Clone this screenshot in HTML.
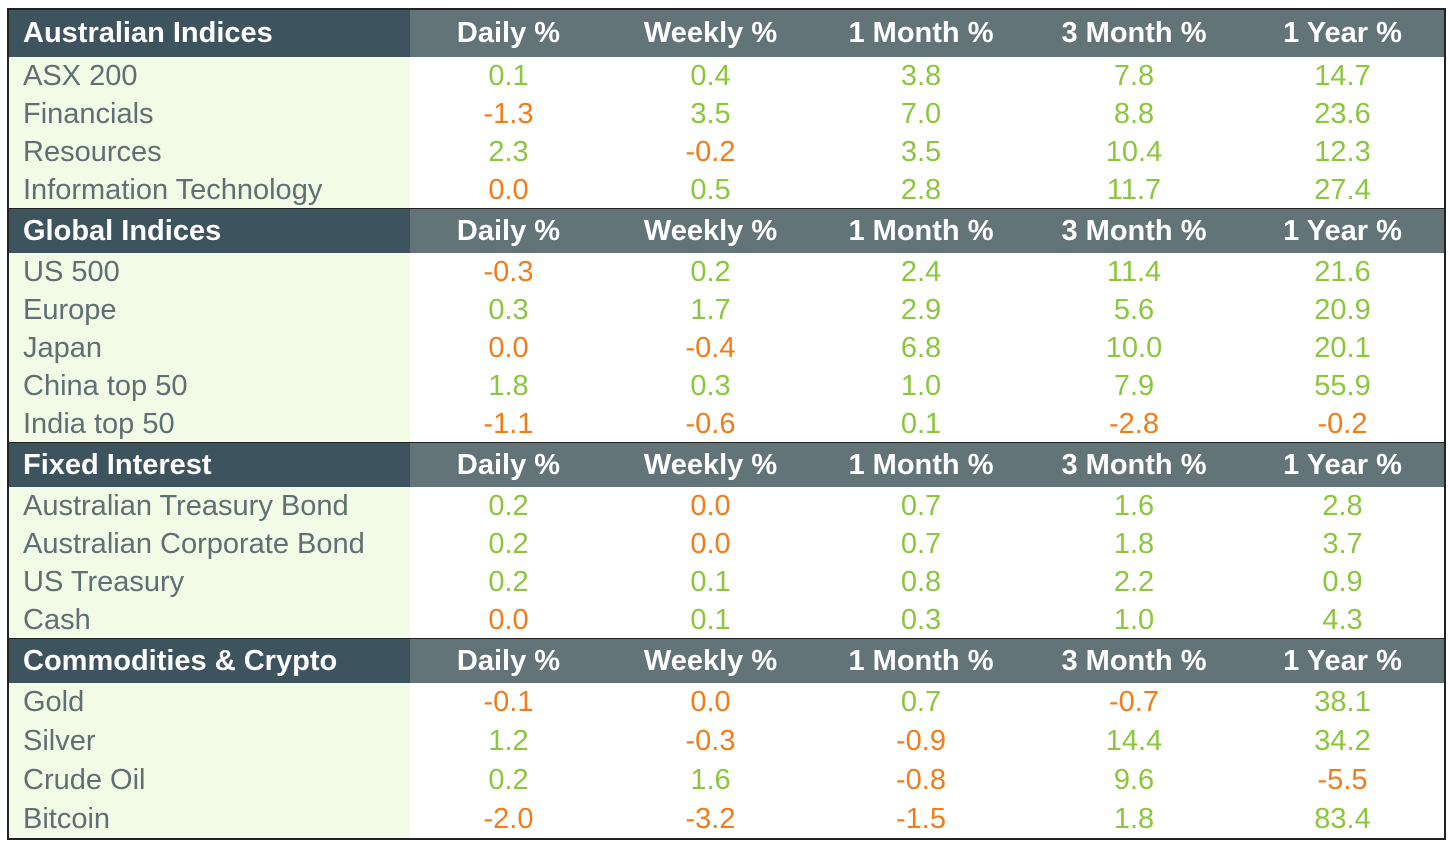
<!DOCTYPE html>
<html><head><meta charset="utf-8"><style>
body{margin:0;width:1450px;height:846px;background:#fff;font-family:"Liberation Sans",Arial,sans-serif;position:relative;overflow:hidden}
.c{position:absolute;box-sizing:border-box;display:flex;align-items:center;font-size:29px;white-space:nowrap}
.lbl{padding-left:14px;color:#5f6f73;background:#f1fbe6}
.hd{font-weight:bold;color:#fff;background:#637479;justify-content:center}
.hd0{background:#3d535e;justify-content:flex-start;padding-left:14px}
.v{justify-content:center}
.pos{color:#8cc63f}.neg{color:#f07d1a}
.line{position:absolute;left:7px;width:1439px;height:2px;background:#222}
#frame{position:absolute;left:7px;top:8px;width:1439px;height:832px;box-sizing:border-box;border:2px solid #222;pointer-events:none;z-index:2}
</style></head><body>
<div id="frame"></div>
<script>
const sectionTitles=["Australian Indices","Global Indices","Fixed Interest","Commodities & Crypto"];
const columnHeaders=["Daily %","Weekly %","1 Month %","3 Month %","1 Year %"];
const rowLabels=[
["ASX 200","Financials","Resources","Information Technology"],
["US 500","Europe","Japan","China top 50","India top 50"],
["Australian Treasury Bond","Australian Corporate Bond","US Treasury","Cash"],
["Gold","Silver","Crude Oil","Bitcoin"]];
const rowValues=[
[[0.1,0.4,3.8,7.8,14.7],[-1.3,3.5,7.0,8.8,23.6],[2.3,-0.2,3.5,10.4,12.3],[0.0,0.5,2.8,11.7,27.4]],
[[-0.3,0.2,2.4,11.4,21.6],[0.3,1.7,2.9,5.6,20.9],[0.0,-0.4,6.8,10.0,20.1],[1.8,0.3,1.0,7.9,55.9],[-1.1,-0.6,0.1,-2.8,-0.2]],
[[0.2,0.0,0.7,1.6,2.8],[0.2,0.0,0.7,1.8,3.7],[0.2,0.1,0.8,2.2,0.9],[0.0,0.1,0.3,1.0,4.3]],
[[-0.1,0.0,0.7,-0.7,38.1],[1.2,-0.3,-0.9,14.4,34.2],[0.2,1.6,-0.8,9.6,-5.5],[-2.0,-3.2,-1.5,1.8,83.4]]];
const colX=[9,410,607,814,1028,1240,1445];
const sectionTop=[9,209,443,639];
const headerH=[48,44,44,44];
const rowH=[38,38,38,39];
function cell(x0,x1,y,h,cls,text){const d=document.createElement('div');d.className='c '+cls;d.style.left=x0+'px';d.style.width=(x1-x0)+'px';d.style.top=y+'px';d.style.height=h+'px';d.textContent=text;document.body.appendChild(d);return d;}
sectionTitles.forEach((t,s)=>{
  let y=sectionTop[s];
  if(s>0){const l=document.createElement('div');l.className='line';l.style.top=(y-1)+'px';
  
  
  document.body.appendChild(l);}
  const h=cell(colX[0],colX[1],y,headerH[s],'hd hd0',t);
  
  
  columnHeaders.forEach((ch,i)=>{const c=cell(colX[i+1],colX[i+2],y,headerH[s],'hd',ch);
    
    });
  y+=headerH[s];
  rowLabels[s].forEach((lab,r)=>{
    const a=cell(colX[0],colX[1],y,rowH[s],'lbl',lab);
    
    
    rowValues[s][r].forEach((v,i)=>{
      const c=cell(colX[i+1],colX[i+2],y,rowH[s],'v '+(v<=0?'neg':'pos'),v.toFixed(1));
      
      
    });
    y+=rowH[s];
  });
});
</script>
</body></html>
